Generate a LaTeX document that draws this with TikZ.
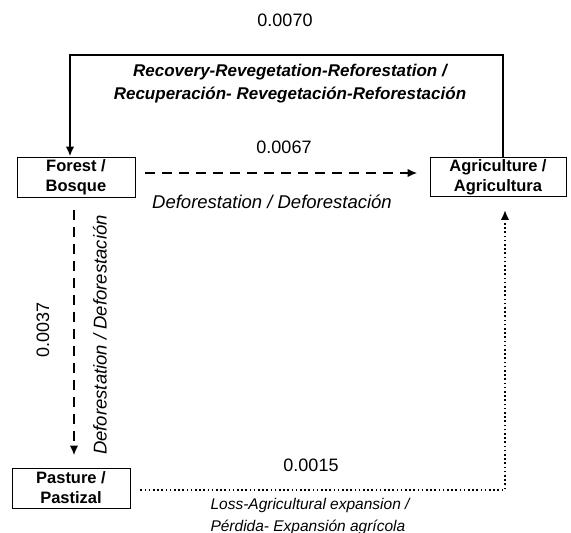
\documentclass[tikz,border=0pt]{standalone}
\usepackage{fontspec}
\setmainfont{Liberation Sans}
\usetikzlibrary{arrows.meta}
\tikzset{
  box/.style={draw, line width=0.9pt, align=center, font=\fontsize{16.5}{20}\selectfont\bfseries, inner sep=0pt},
  num/.style={font=\fontsize{18}{22}\selectfont},
  lab/.style={font=\fontsize{18.5}{22}\selectfont\itshape},
  tip/.style={-{Latex[length=10pt,width=8.5pt]}},
  solidarrow/.style={tip, line width=2.4pt},
  dasharrow/.style={tip, line width=2.6pt, dash pattern=on 10pt off 7pt},
  dotarrow/.style={tip, line width=2.4pt, dash pattern=on 1.6pt off 2.6pt},
}
\begin{document}
\begin{tikzpicture}[x=1pt,y=-1pt]
\useasboundingbox (0,0) rectangle (571,533);
\node[box, minimum width=118pt, minimum height=40pt] (forest) at (76,177) {Forest /\\Bosque};
\node[box, minimum width=136pt, minimum height=39pt] (agri) at (498,177) {Agriculture /\\Agricultura};
\node[box, minimum width=118pt, minimum height=40pt] (pasture) at (71,488) {Pasture /\\Pastizal};
\coordinate (topL) at (70,55);
\coordinate (topR) at (503,55);
\coordinate (botR) at (505,490);
% top connector
\draw[solidarrow] (agri.north -| topR) -- (topR) -- (topL) -- (forest.north -| topL);
% forest -> agri
\draw[dasharrow, shorten <=10pt, shorten >=12pt] ([yshift=4pt]forest.east) -- ([yshift=4pt]agri.west);
% forest -> pasture
\draw[dasharrow, shorten <=13pt, shorten >=12pt] (forest.south -| 74,0) -- (pasture.north -| 74,0);
% pasture -> agri
\draw[dotarrow, shorten <=10pt, shorten >=13pt] (pasture.east |- botR) -- (botR) -- (agri.south -| botR);
% labels
\node[num] (n70) at (285,20) {0.0070};
\node[font=\fontsize{17}{23}\selectfont\bfseries\itshape, align=center] (rec) at (290,83.5) {Recovery-Revegetation-Reforestation /\\Recuperación- Revegetación-Reforestación};
\node[num] (n67) at (284,147) {0.0067};
\node[lab] (def1) at (272,202) {Deforestation / Deforestación};
\node[num, rotate=90] (n37) at (43,330) {0.0037};
\node[lab, rotate=90] (def2) at (100,335) {Deforestation / Deforestación};
\node[num] (n15) at (311,465) {0.0015};
\node[font=\fontsize{15.5}{22}\selectfont\itshape, align=left, anchor=west] (loss) at (207,516) {Loss-Agricultural expansion /\\Pérdida- Expansión agrícola};
\end{tikzpicture}
\end{document}
